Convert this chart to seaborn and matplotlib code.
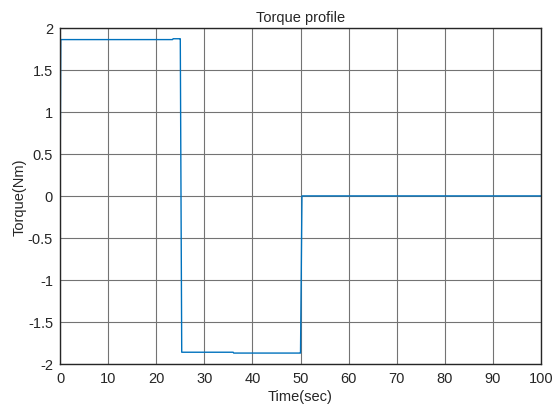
import numpy as np
import pandas as pd
import seaborn as sns
import matplotlib
matplotlib.use('Agg')
import matplotlib.pyplot as plt

# === Dados do perfil de torque ===
tempo = [0, 0.15, 23.4, 23.5, 24.8, 25.0, 25.3, 36.0, 36.1, 49.8, 50.0, 50.3, 100]
torque = [0, 1.86, 1.86, 1.87, 1.87, 1.87, -1.86, -1.86, -1.87, -1.87, -1.87, 0.0, 0.0]
x_ticks = list(range(0, 101, 10))
y_ticks = [-2, -1.5, -1, -0.5, 0, 0.5, 1, 1.5, 2]
y_labels = ['-2', '-1.5', '-1', '-0.5', '0', '0.5', '1', '1.5', '2']

df = pd.DataFrame({'Tempo': tempo, 'Torque': torque})

sns.set_style('white')
plt.rcParams['font.family'] = ['Liberation Sans', 'DejaVu Sans']

fig = plt.figure(figsize=(5.56, 4.06), dpi=100)
ax = fig.add_axes([0.108, 0.101, 0.865, 0.828])

sns.lineplot(data=df, x='Tempo', y='Torque', ax=ax, color='#0072BD',
             linewidth=1.0, estimator=None, sort=False)

ax.set_xlim(0, 100)
ax.set_ylim(-2, 2)
ax.set_xticks(x_ticks)
ax.set_yticks(y_ticks)
ax.set_yticklabels(y_labels)
ax.grid(True, color='0.45', linewidth=0.8)
ax.set_axisbelow(True)
for s in ax.spines.values():
    s.set_color('0.15')
    s.set_linewidth(1.0)
ax.tick_params(direction='in', length=4, labelsize=10.5, colors='0.15', pad=5)

ax.set_title('Torque profile', fontsize=10.5, pad=5)
ax.set_xlabel('Time(sec)', fontsize=10.5, labelpad=3)
ax.set_ylabel('Torque(Nm)', fontsize=10.5, labelpad=1)

plt.savefig('out.png', dpi=100)
